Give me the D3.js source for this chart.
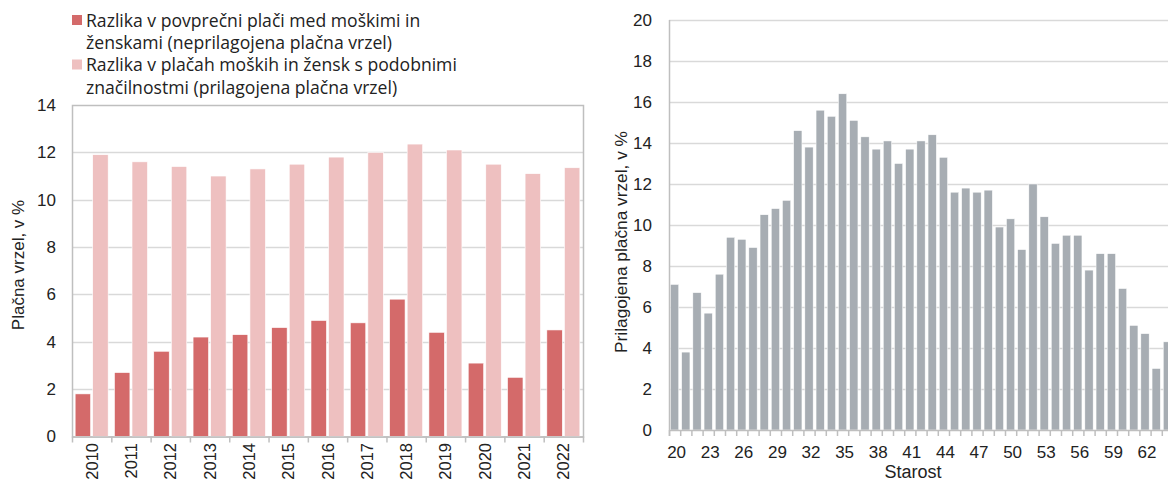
<!DOCTYPE html>
<html><head><meta charset="utf-8">
<script src="https://cdn.jsdelivr.net/npm/d3@7"></script>
<style>
html,body{margin:0;padding:0;background:#fff;}
svg{display:block;font-family:"Liberation Sans",Arial,sans-serif;}
</style></head>
<body>
<svg id="c" width="1168" height="482"></svg>
<script>
// ---- Data ----
const years = ["2010","2011","2012","2013","2014","2015","2016","2017","2018","2019","2020","2021","2022"];
const unadjustedGap = [1.8,2.7,3.6,4.2,4.3,4.6,4.9,4.8,5.8,4.4,3.1,2.5,4.5];
const adjustedGap = [11.9,11.6,11.4,11.0,11.3,11.5,11.8,12.0,12.35,12.1,11.5,11.1,11.35];
const legendLines = [["Razlika v povprečni plači med moškimi in","ženskami (neprilagojena plačna vrzel)"],
                     ["Razlika v plačah moških in žensk s podobnimi","značilnostmi (prilagojena plačna vrzel)"]];
const leftTicks = [0,2,4,6,8,10,12,14];
const ages = [20,21,22,23,24,25,26,27,28,29,30,31,32,33,34,35,36,37,38,39,40,41,42,43,44,45,46,47,48,49,50,51,52,53,54,55,56,57,58,59,60,61,62,63,64];
const ageGap = [7.1,3.8,6.7,5.7,7.6,9.4,9.3,8.9,10.5,10.8,11.2,14.6,13.8,15.6,15.3,16.4,15.1,14.3,13.7,14.1,13.0,13.7,14.1,14.4,13.3,11.6,11.8,11.6,11.7,9.9,10.3,8.8,12.0,10.4,9.1,9.5,9.5,7.8,8.6,8.6,6.9,5.1,4.7,3.0,4.3];
const rightTicks = [0,2,4,6,8,10,12,14,16,18,20];
const ageLabels = [20,23,26,29,32,35,38,41,44,47,50,53,56,59,62];

const colors = ["#d46a6a","#eec0c0"];
const greyBar = "#a7adb3";
const gridCol = "#d9d9d9";
const axisCol = "#bfbfbf";
const textCol = "#222";

const svg = d3.select("#c");

// ---- Left chart ----
const L = {x0:72, x1:583, y0:436.5, y1:105};
const yL = d3.scaleLinear().domain([0,14]).range([L.y0, L.y1]);
const xL = d3.scaleBand().domain(years).range([L.x0, L.x1]).paddingInner(0.16).paddingOuter(0.08);
const xS = d3.scaleBand().domain([0,1]).range([0, xL.bandwidth()]).paddingInner(0.12);
const gL = svg.append("g");

gL.selectAll("line.grid").data(leftTicks.filter(t=>t>0 && t<14)).join("line")
  .attr("x1",L.x0).attr("x2",L.x1).attr("y1",d=>Math.round(yL(d))+0.5).attr("y2",d=>Math.round(yL(d))+0.5)
  .attr("stroke",gridCol).attr("stroke-width",1.5);
gL.append("rect").attr("x",L.x0+0.5).attr("y",L.y1+0.5).attr("width",L.x1-L.x0).attr("height",L.y0-L.y1)
  .attr("fill","none").attr("stroke",axisCol).attr("stroke-width",1.5);

const data = years.map((y,i)=>({year:y, vals:[unadjustedGap[i], adjustedGap[i]]}));
gL.selectAll("g.grp").data(data).join("g")
  .attr("transform",d=>`translate(${xL(d.year)},0)`)
  .selectAll("rect").data(d=>d.vals.map((v,k)=>({v,k}))).join("rect")
  .attr("x",d=>xS(d.k)).attr("width",xS.bandwidth())
  .attr("y",d=>yL(d.v)).attr("height",d=>yL(0)-yL(d.v))
  .attr("fill",d=>colors[d.k]).attr("stroke","#fff").attr("stroke-width",0.6);

gL.append("line").attr("x1",L.x0).attr("x2",L.x1+1).attr("y1",L.y0+0.5).attr("y2",L.y0+0.5)
  .attr("stroke",axisCol).attr("stroke-width",1.5);
const leftBounds = years.map(y=>xL(y)-xL.step()*xL.paddingInner()/2).concat([L.x1]);
gL.selectAll("line.xt").data(leftBounds).join("line")
  .attr("x1",d=>d+0.5).attr("x2",d=>d+0.5).attr("y1",L.y0).attr("y2",L.y0+6)
  .attr("stroke",axisCol).attr("stroke-width",1.5);
gL.selectAll("text.yt").data(leftTicks).join("text")
  .attr("x",56).attr("y",d=>yL(d)).attr("dy","0.35em").attr("text-anchor","end")
  .attr("font-size",17).attr("fill",textCol).text(d=>d);
gL.selectAll("text.xl").data(years).join("text")
  .attr("transform",d=>`translate(${xL(d)+xL.bandwidth()/2+6},443) rotate(-90)`)
  .attr("text-anchor","end").attr("font-size",16.5).attr("fill",textCol).text(d=>d);
gL.append("text").attr("transform","translate(24,265) rotate(-90)").attr("text-anchor","middle")
  .attr("font-size",17).attr("fill",textCol).text("Plačna vrzel, v %");
const leg = svg.append("g");
legendLines.forEach((lines,k)=>{
  const top = 15 + k*44.5;
  leg.append("rect").attr("x",72).attr("y",top).attr("width",10).attr("height",10).attr("fill",colors[k]);
  lines.forEach((t,j)=>{
    leg.append("text").attr("x",86).attr("y",top+11.5+j*22.5).attr("font-size",17.6)
      .attr("font-family","'Open Sans',sans-serif").attr("fill",textCol).text(t);
  });
});

// ---- Right chart ----
const R = {x0:669, y0:430, y1:20};
const step = 11.2;
const xR = d3.scaleBand().domain(ages).range([R.x0, R.x0+ages.length*step]).paddingInner(0.26).paddingOuter(0.13);
const yR = d3.scaleLinear().domain([0,20]).range([R.y0, R.y1]);
const gR = svg.append("g");
gR.selectAll("line.grid").data(rightTicks.filter(t=>t>0)).join("line")
  .attr("x1",R.x0).attr("x2",1168).attr("y1",d=>Math.round(yR(d))+0.5).attr("y2",d=>Math.round(yR(d))+0.5)
  .attr("stroke",gridCol).attr("stroke-width",1.5);
gR.selectAll("rect").data(ages.map((a,i)=>({a,v:ageGap[i]}))).join("rect")
  .attr("x",d=>xR(d.a)).attr("width",xR.bandwidth())
  .attr("y",d=>yR(d.v)).attr("height",d=>yR(0)-yR(d.v))
  .attr("fill",greyBar).attr("stroke","#fff").attr("stroke-width",0.5);
gR.append("line").attr("x1",R.x0+0.5).attr("x2",R.x0+0.5).attr("y1",R.y1).attr("y2",R.y0+6)
  .attr("stroke",axisCol).attr("stroke-width",1.5);
gR.append("line").attr("x1",R.x0).attr("x2",1168).attr("y1",R.y0+0.5).attr("y2",R.y0+0.5)
  .attr("stroke",axisCol).attr("stroke-width",1.5);
const rightBounds = ages.map(a=>xR(a)-xR.step()*xR.paddingInner()/2);
gR.selectAll("line.xt").data(rightBounds).join("line")
  .attr("x1",d=>d+0.5).attr("x2",d=>d+0.5).attr("y1",R.y0).attr("y2",R.y0+6)
  .attr("stroke",axisCol).attr("stroke-width",1.5);
gR.selectAll("text.yt").data(rightTicks).join("text")
  .attr("x",652).attr("y",d=>yR(d)).attr("dy","0.35em").attr("text-anchor","end")
  .attr("font-size",17).attr("fill",textCol).text(d=>d);
gR.selectAll("text.xl").data(ageLabels).join("text")
  .attr("x",d=>xR(d)+xR.bandwidth()/2+2).attr("y",452).attr("dy","0.35em").attr("text-anchor","middle")
  .attr("font-size",17).attr("fill",textCol).text(d=>d);
gR.append("text").attr("x",913).attr("y",478).attr("text-anchor","middle")
  .attr("font-size",18).attr("fill",textCol).text("Starost");
gR.append("text").attr("transform","translate(627,242) rotate(-90)").attr("text-anchor","middle")
  .attr("font-size",17.3).attr("fill",textCol).text("Prilagojena plačna vrzel, v %");
</script>
</body></html>
